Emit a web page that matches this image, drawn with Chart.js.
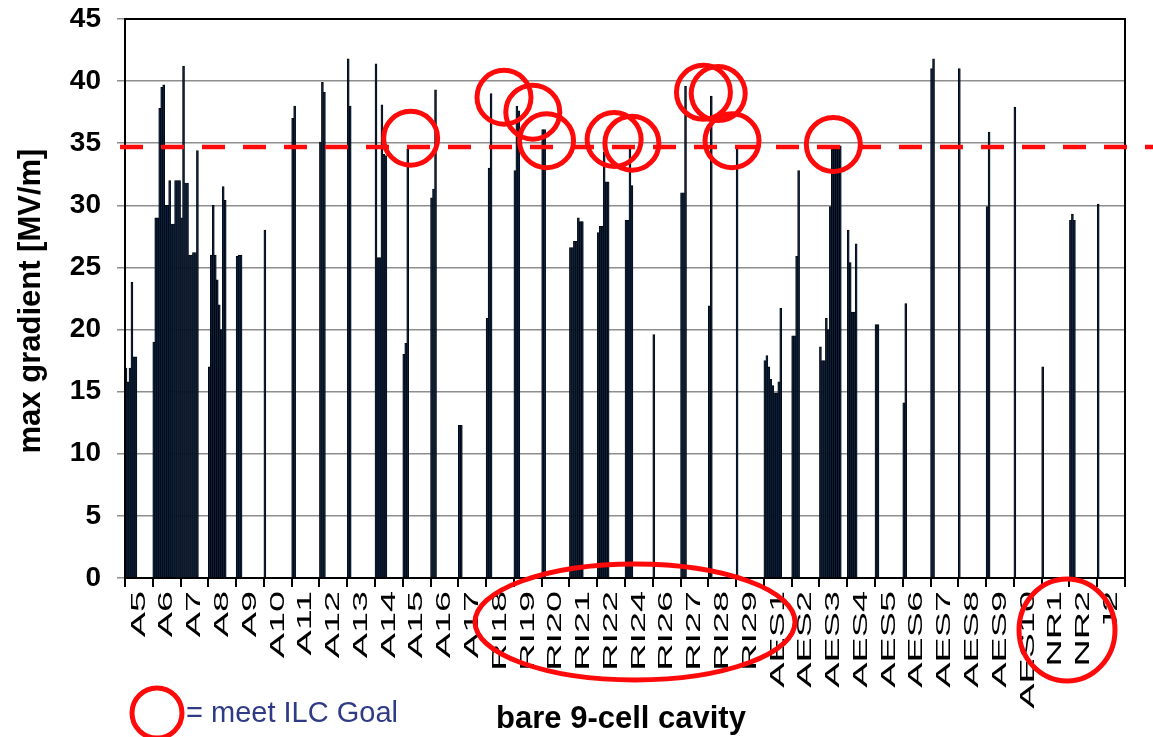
<!DOCTYPE html>
<html>
<head>
<meta charset="utf-8">
<title>max gradient of bare 9-cell cavities</title>
<script src="https://cdn.jsdelivr.net/npm/chart.js@4.4.1/dist/chart.umd.min.js"></script>
<style>
  html, body { margin: 0; padding: 0; background: #ffffff; }
  #wrap { width: 1153px; height: 737px; position: relative; }
</style>
</head>
<body>
<div id="wrap"><canvas id="chart" width="1153" height="737"></canvas></div>
<script>
// Cavity names along the x axis
const cavities = ['A5','A6','A7','A8','A9','A10','A11','A12','A13','A14','A15','A16','A17',
  'RI18','RI19','RI20','RI21','RI22','RI24','RI26','RI27','RI28','RI29',
  'AES1','AES2','AES3','AES4','AES5','AES6','AES7','AES8','AES9','AES10',
  'NR1','NR2','J2'];

// Max gradient [MV/m] of each successive vertical test, per cavity
const A5    = [16.9, 15.8, 16.9, 23.8, 17.8, 17.8];
const A6    = [19, 29, 29, 37.8, 39.5, 39.7, 30, 30, 32, 28.5, 28.5, 32, 32, 32];
const A7    = [29, 41.2, 31.8, 31.8, 26, 26, 26.2, 26.2, 34.4];
const A8    = [17, 26, 30, 26, 24, 22, 20, 31.5, 30.4];
const A9    = [25.9, 26, 26];
const A10   = [28];
const A11   = [37, 38];
const A12   = [35.1, 39.9, 39.1];
const A13   = [41.8, 38];
const A14   = [41.4, 25.8, 25.8, 38.1, 34.1, 34];
const A15   = [18, 18.9, 34.5];
const A16   = [30.6, 31.3, 39.3];
const A17   = [12.3, 12.3];
const RI18  = [20.9, 33, 39];
const RI19  = [32.8, 38, 37.6];
const RI20  = [36.1, 36.1];
const RI21  = [26.6, 26.6, 27.1, 27.1, 29, 28.7, 28.7];
const RI22  = [27.8, 28.3, 28.3, 34.3, 31.9, 31.9];
const RI24  = [28.8, 28.8, 34.8, 31.6];
const RI26  = [19.6];
const RI27  = [31, 31, 39.6];
const RI28  = [21.9, 38.8];
const RI29  = [34.5];
const AES1  = [17.5, 17.9, 17, 16, 15.5, 14.9, 14.9, 15.8, 21.7];
const AES2  = [19.5, 19.5, 25.9, 32.8];
const AES3  = [18.6, 17.5, 17.5, 20.9, 20, 29.9, 34.5, 34.5, 34.6, 34.8, 34.8];
const AES4  = [28, 25.4, 21.4, 21.4, 26.9];
const AES5  = [20.4, 20.4];
const AES6  = [14.1, 22.1];
const AES7  = [41, 41.8];
const AES8  = [41];
const AES9  = [29.9, 35.9];
const AES10 = [37.9];
const NR1   = [17];
const NR2   = [28.8, 29.3, 28.8];
const J2    = [30.1];

const cavityResults = [A5, A6, A7, A8, A9, A10, A11, A12, A13, A14, A15, A16, A17,
  RI18, RI19, RI20, RI21, RI22, RI24, RI26, RI27, RI28, RI29,
  AES1, AES2, AES3, AES4, AES5, AES6, AES7, AES8, AES9, AES10,
  NR1, NR2, J2];

// Y axis ticks and the ILC goal gradient
const yTicks = [0, 5, 10, 15, 20, 25, 30, 35, 40, 45];
const ilcGoal = 34.7;

// Tests reaching the ILC goal: [cavity, gradient at ring centre]
const goalMarks = [
  ['A15', 35.4], ['RI18', 38.7], ['RI19', 37.5], ['RI20', 35.2], ['RI22', 35.3],
  ['RI24', 35.0], ['RI27', 39.1], ['RI28', 39.0], ['RI29', 35.2], ['AES3', 34.9]
];
// horizontal nudge of each ring from its cavity centre (px)
const goalMarkShift = [-6, 4, 5, -9, 3, -7, 9, -4, -18, 0];

// One dataset per test number, built from the per-cavity lists
const maxTests = Math.max(...cavityResults.map(r => r.length));
const datasets = [];
for (let t = 0; t < maxTests; t++) {
  datasets.push({
    label: 'test ' + (t + 1),
    data: cavityResults.map(r => (t < r.length ? r[t] : null)),
    backgroundColor: '#0b2140',
    borderColor: '#000000',
    borderWidth: 0.7,
    categoryPercentage: 1.0,
    barPercentage: 1.0
  });
}

const FONT = "'Liberation Sans', Arial, sans-serif";
const RED = '#ff0a0a';

function ring(ctx, x, y, rx, ry, w) {
  ctx.save();
  ctx.strokeStyle = RED;
  ctx.lineWidth = w;
  ctx.beginPath();
  ctx.ellipse(x, y, rx, ry, 0, 0, Math.PI * 2);
  ctx.stroke();
  ctx.restore();
}

const decorations = {
  id: 'decorations',
  afterDraw(chart) {
    const { ctx, chartArea: a, scales: { x, y } } = chart;

    // frame around the plot
    ctx.save();
    ctx.strokeStyle = '#000';
    ctx.lineWidth = 2;
    ctx.strokeRect(a.left, a.top, a.right - a.left, a.bottom - a.top);
    ctx.restore();

    // cavity names, rotated and drawn long
    ctx.save();
    ctx.fillStyle = '#000';
    ctx.font = '21px ' + FONT;
    ctx.textAlign = 'right';
    ctx.textBaseline = 'middle';
    cavities.forEach((name, i) => {
      const px = x.getPixelForValue(i);
      ctx.save();
      ctx.translate(px, a.bottom + 13);
      ctx.rotate(-Math.PI / 2);
      ctx.scale(1.8, 1);
      ctx.fillText(name, 0, 0);
      ctx.restore();
    });
    ctx.restore();

    // ILC goal line
    const gy = y.getPixelForValue(ilcGoal);
    ctx.save();
    ctx.strokeStyle = RED;
    ctx.lineWidth = 4.5;
    ctx.setLineDash([23, 18]);
    ctx.beginPath();
    ctx.moveTo(a.left - 5, gy);
    ctx.lineTo(chart.width, gy);
    ctx.stroke();
    ctx.restore();

    // rings on the tests that meet the goal
    goalMarks.forEach(([cav, g], k) => {
      const px = x.getPixelForValue(cavities.indexOf(cav)) + goalMarkShift[k];
      ring(ctx, px, y.getPixelForValue(g), 27, 27, 5);
    });

    // groups of cavities that reach the goal
    ring(ctx, 635, 622, 160, 58, 5);
    ring(ctx, 1067, 630, 48, 51, 5);

    // axis titles
    ctx.save();
    ctx.fillStyle = '#000';
    ctx.font = 'bold 31px ' + FONT;
    ctx.textAlign = 'center';
    ctx.textBaseline = 'middle';
    ctx.fillText('bare 9-cell cavity', 621, 719);
    ctx.translate(31, 301);
    ctx.rotate(-Math.PI / 2);
    ctx.font = 'bold 31px ' + FONT;
    ctx.fillText('max gradient [MV/m]', 0, 0);
    ctx.restore();

    // key
    ring(ctx, 157, 713, 25, 25, 5);
    ctx.save();
    ctx.fillStyle = '#2f3b86';
    ctx.font = '29px ' + FONT;
    ctx.textAlign = 'left';
    ctx.textBaseline = 'middle';
    ctx.fillText('= meet ILC Goal', 186, 714);
    ctx.restore();
  }
};

new Chart(document.getElementById('chart'), {
  type: 'bar',
  data: { labels: cavities, datasets },
  plugins: [decorations],
  options: {
    responsive: false,
    devicePixelRatio: 1,
    animation: false,
    layout: { padding: { left: 0, right: 28, top: 19, bottom: 0 } },
    plugins: { legend: { display: false }, tooltip: { enabled: false }, title: { display: false } },
    scales: {
      x: {
        grid: { drawOnChartArea: false, drawTicks: true, tickLength: 9, color: '#000', lineWidth: 2, offset: true },
        border: { display: true, color: '#000', width: 2 },
        ticks: { display: false },
        afterFit(scale) { scale.height = 159; scale.paddingLeft = 0; scale.paddingRight = 0; }
      },
      y: {
        min: 0,
        max: 45,
        afterBuildTicks(scale) { scale.ticks = yTicks.map(v => ({ value: v })); },
        grid: { color: '#8e8e8e', lineWidth: 1.5, tickLength: 8 },
        border: { display: true, color: '#000', width: 2 },
        ticks: {
          color: '#000',
          padding: 16,
          font: { family: FONT, size: 28, weight: 'bold' }
        },
        afterFit(scale) { scale.width = 125; scale.paddingTop = 0; scale.paddingBottom = 0; }
      }
    }
  }
});
</script>
</body>
</html>
